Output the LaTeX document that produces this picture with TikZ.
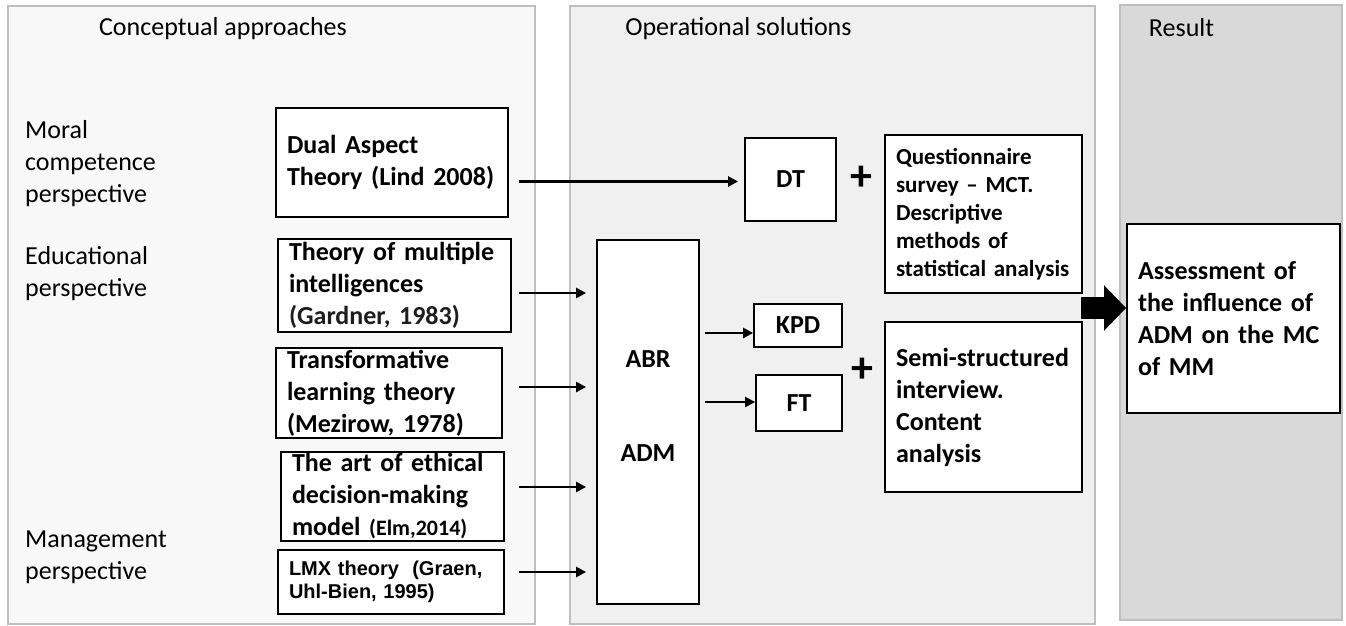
\documentclass[tikz,border=0pt]{standalone}
\usepackage{fontspec}
\setmainfont{Carlito}
\newfontfamily\arialf{Liberation Sans}
\usetikzlibrary{arrows.meta}
\definecolor{pborder}{RGB}{191,191,191}
\definecolor{pleft}{RGB}{248,248,248}
\definecolor{pmid}{RGB}{240,240,240}
\definecolor{pright}{RGB}{217,217,217}
\definecolor{gtext}{RGB}{30,30,30}
\begin{document}
\begin{tikzpicture}[x=1pt,y=-1pt,
  panel/.style={draw=pborder, line width=1.5pt},
  box/.style={draw=black, line width=1.8pt, fill=white, inner xsep=11pt, inner ysep=0pt,
    align=left, font=\fontsize{26}{32}\selectfont\bfseries},
  sbox/.style={draw=black, line width=1.8pt, fill=white, inner sep=0pt, align=center,
    font=\fontsize{26}{32}\selectfont\bfseries},
  lbl/.style={font=\fontsize{26}{32}\selectfont, align=left, inner sep=0pt},
  btxt/.style={font=\fontsize{26}{32}\selectfont\bfseries, inner sep=0pt},
  arr/.style={line width=2.4pt, -{Triangle[length=10pt,width=10pt]}},
  plus/.style={font=\fontsize{44}{44}\selectfont\bfseries, inner sep=0pt}]
\useasboundingbox (0,0) rectangle (1346,626);
\fill[white] (0,0) rectangle (1346,626);
% panels
\path[panel, fill=pleft] (8,6) rectangle (535,624);
\path[panel, fill=pmid] (570,6) rectangle (1095,624);
\path[panel, fill=pright] (1120,5) rectangle (1342,620);
% titles
\node[lbl] (t1) at (223,29) {Conceptual approaches};
\node[lbl] (t2) at (738.5,29) {Operational solutions};
\node[lbl] (t3) at (1181.5,28) {Result};
% perspectives
\node[lbl, anchor=west] (l1) at (25,163.5) {Moral\\competence\\perspective};
\node[lbl, anchor=west] (l2) at (25,273.5) {Educational\\perspective};
\node[lbl, anchor=west] (l3) at (25,557.5) {Management\\perspective};
% theory boxes
\node[box, text width=210pt, minimum height=109pt] (dat) at (392,162.5)
  {\mbox{Dual Aspect}\\\mbox{Theory (Lind 2008)}};
\node[box, text width=211pt, minimum height=93pt] (tmi) at (394.5,285.5)
  {\mbox{Theory of multiple}\\\mbox{intelligences}\\\mbox{\color{gtext}(Gardner, 1983)}};
\node[box, text width=204pt, minimum height=90pt] (tlt) at (389,393)
  {\mbox{Transformative}\\\mbox{learning theory}\\\mbox{(Mezirow, 1978)}};
\node[box, text width=201pt, minimum height=89pt] (aed) at (392.5,496.5)
  {\mbox{The art of ethical}\\\mbox{decision-making}\\\mbox{model {\fontsize{22}{32}\selectfont(Elm,2014)}}};
\node[box, text width=204pt, minimum height=64pt, font=\arialf\fontsize{20}{23}\selectfont\bfseries] (lmx) at (391,582)
  {\mbox{LMX theory\ \ (Graen,}\\\mbox{Uhl-Bien, 1995)}};
% operational
\node[sbox, minimum width=102pt, minimum height=364pt] (abr) at (648,422) {};
\node[btxt] (abrt) at (648,359) {ABR};
\node[btxt] (admt) at (648,453) {ADM};
\node[sbox, minimum width=91pt, minimum height=83pt] (dt) at (790.5,179.5) {DT};
\node[sbox, minimum width=88pt, minimum height=43pt] (kpd) at (798,325.5) {KPD};
\node[sbox, minimum width=86pt, minimum height=56pt] (ft) at (799,403) {FT};
\node[plus] (p1) at (861,178) {+};
\node[plus] (p2) at (862,370) {+};
\node[box, text width=175pt, minimum height=158pt, font=\fontsize{23}{28}\selectfont\bfseries] (q) at (983.5,214)
  {\mbox{Questionnaire}\\\mbox{survey -- MCT.}\\\mbox{Descriptive}\\\mbox{methods of}\\\mbox{statistical analysis}};
\node[box, text width=175pt, minimum height=170pt] (ssi) at (983.5,407)
  {\mbox{Semi-structured}\\\mbox{interview.}\\\mbox{Content}\\\mbox{analysis}};
% result
\node[box, text width=191pt, minimum height=189pt] (ass) at (1233.5,318.5)
  {\mbox{Assessment of}\\\mbox{the influence of}\\\mbox{ADM on the MC}\\\mbox{of MM}};
% connectors
\draw[arr, shorten >=6pt] ([xshift=10pt,yshift=-2pt]dat.east |- dt.west) -- ([yshift=-2pt]dt.west);
\path (tmi.east) ++(7,7.5) coordinate (s1);
\path (tlt.east) ++(16,-6) coordinate (s2);
\path (aed.east) ++(14,-9.5) coordinate (s3);
\path (lmx.east) ++(14,-10) coordinate (s4);
\foreach \s in {s1,s2,s3,s4}
  \draw[arr, shorten >=10pt] (\s) -- (\s -| abr.west);
\path (abr.east) ++(5,-89) coordinate (s5);
\path (abr.east) ++(5,-20) coordinate (s6);
\draw[arr] (s5) -- (s5 -| kpd.west);
\draw[arr] (s6) -- (s6 -| ft.west);
\coordinate (bigs) at (1081,308);
\draw[line width=22pt, -{Triangle[length=22pt,width=44pt]}] (bigs) -- (bigs -| ass.west);
\end{tikzpicture}
\end{document}
